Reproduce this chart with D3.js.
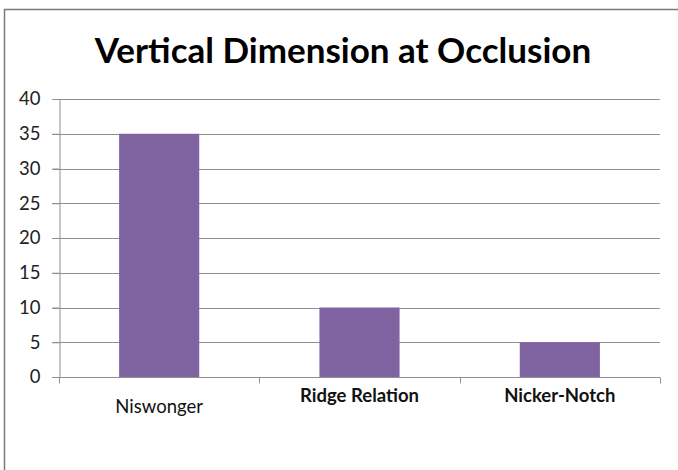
<!DOCTYPE html>
<html><head><meta charset="utf-8">
<script src="https://cdn.jsdelivr.net/npm/d3@7"></script>
<style>html,body{margin:0;padding:0;background:#fff;}svg{display:block;}</style>
</head><body>
<svg id="chart" width="678" height="470"></svg>
<script>
const title = "Vertical Dimension at Occlusion";
const categories = ["Niswonger", "Ridge Relation", "Nicker-Notch"];
const values = [35, 10, 5];
const boldLabel = [false, true, true];
const yTicks = [0, 5, 10, 15, 20, 25, 30, 35, 40];

const svg = d3.select("#chart");
const W = 678, H = 470;
const m = {left: 59, right: 18, top: 99, bottom: 93};

// frame
svg.append("path").attr("d", `M4.5,${H} L4.5,9.5 L${W},9.5`)
  .attr("fill","none").attr("stroke","#7a7a7a").attr("stroke-width",1.5);

const x = d3.scaleBand().domain(categories).range([m.left, W - m.right]).paddingInner(0.6).paddingOuter(0.3);
const y = d3.scaleLinear().domain([0, 40]).range([H - m.bottom, m.top]);

// gridlines
svg.append("g").selectAll("line").data(yTicks.filter(d => d > 0)).join("line")
  .attr("x1", m.left - 7).attr("x2", W - m.right)
  .attr("y1", d => Math.round(y(d)) + 0.5).attr("y2", d => Math.round(y(d)) + 0.5)
  .attr("stroke", "#8f8f8f").attr("stroke-width", 1);

// y axis
const ya = svg.append("g").attr("transform", `translate(${m.left + 0.5},0)`)
  .call(d3.axisLeft(y).tickValues(yTicks).tickSize(7).tickPadding(12));
ya.select(".domain").attr("stroke", "#8f8f8f");
ya.selectAll(".tick line").attr("stroke", "#8f8f8f");
ya.selectAll(".tick text").attr("font-family", "Lato, 'Open Sans', sans-serif").attr("font-size", 18.5).attr("fill", "#222");

// bars
svg.append("g").selectAll("rect").data(values).join("rect")
  .attr("x", (d, i) => x(categories[i]))
  .attr("width", x.bandwidth())
  .attr("y", d => y(d))
  .attr("height", d => y(0) - y(d))
  .attr("fill", "#8064A2");

// x axis
const xa = svg.append("g").attr("transform", `translate(0,${Math.round(y(0)) + 0.5})`);
xa.append("line").attr("x1", m.left - 7).attr("x2", W - m.right).attr("stroke", "#8f8f8f");
const bounds = d3.range(categories.length + 1).map(i => m.left + i * (W - m.right - m.left) / categories.length);
xa.selectAll(".xt").data(bounds).join("line").attr("class","xt")
  .attr("x1", d => Math.round(d) + 0.5).attr("x2", d => Math.round(d) + 0.5)
  .attr("y1", 0).attr("y2", 6).attr("stroke", "#8f8f8f");

svg.append("g").selectAll("text").data(categories).join("text")
  .attr("x", d => x(d) + x.bandwidth() / 2)
  .attr("y", (d, i) => boldLabel[i] ? 402 : 413)
  .attr("text-anchor", "middle")
  .attr("font-family", "Lato, 'Open Sans', sans-serif")
  .attr("font-size", 18.5)
  .attr("font-weight", (d, i) => boldLabel[i] ? "bold" : "normal")
  .attr("fill", "#111")
  .text(d => d);

// title
svg.append("text").attr("x", 343).attr("y", 63).attr("text-anchor", "middle")
  .attr("font-family", "Lato, 'Open Sans', sans-serif").attr("font-size", 35).attr("font-weight", "bold")
  .attr("fill", "#000").text(title);
</script>
</body></html>
